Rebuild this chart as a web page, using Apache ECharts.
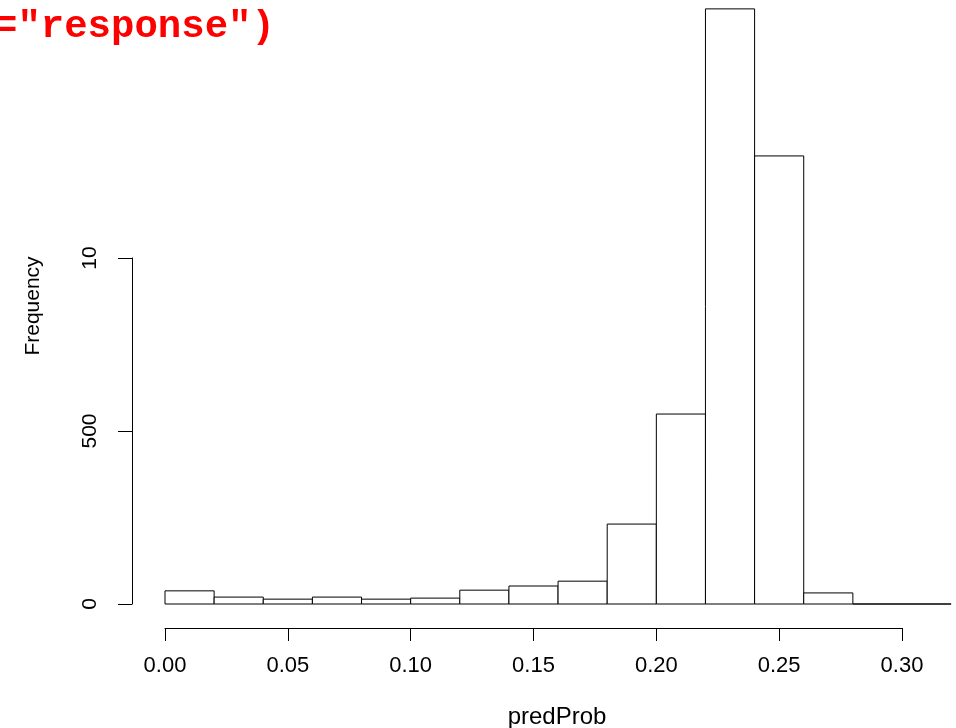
<!DOCTYPE html>
<html><head><meta charset="utf-8">
<script src="https://cdn.jsdelivr.net/npm/echarts@6/dist/echarts.min.js"></script>
<style>html,body{margin:0;padding:0;background:#fff}#c{width:956px;height:728px}</style>
</head><body><div id="c"></div>
<script>
const binStarts = [0.00,0.02,0.04,0.06,0.08,0.10,0.12,0.14,0.16,0.18,0.20,0.22,0.24,0.26,0.28,0.30];
const binWidth = 0.02;
const counts = [38,20,14,20,14,17,40,52,66,231,549,1720,1295,32,0,0];
const xTicks = [0,0.05,0.10,0.15,0.20,0.25,0.30];
const yTicks = [0,500,1000];
const yTickLabels = ['0','500','10'];
const xTitle = 'predProb';
const yTitle = 'Frequency';
const codeText = '="response")';

const data = binStarts.map((s,i)=>[s, s+binWidth, counts[i]]);
const chart = echarts.init(document.getElementById('c'));
const font = 'Liberation Sans, Arial, sans-serif';
chart.setOption({
  animation:false,
  grid:{left:165,right:54,top:258,bottom:124,containLabel:false,outerBoundsMode:'none'},
  xAxis:{type:'value',min:0,max:0.30,interval:0.05,offset:24,
    axisLine:{show:true,onZero:false,lineStyle:{color:'#000',width:1}},
    axisTick:{show:true,length:13,lineStyle:{color:'#000'}},
    axisLabel:{color:'#000',fontFamily:font,fontSize:22,margin:27,formatter:v=>v.toFixed(2)},
    splitLine:{show:false}},
  yAxis:{type:'value',min:0,max:1000,interval:500,offset:33,
    axisLine:{show:true,onZero:false,lineStyle:{color:'#000',width:1}},
    axisTick:{show:true,length:14,lineStyle:{color:'#000'}},
    axisLabel:{color:'#000',fontFamily:font,fontSize:21,rotate:90,margin:31,
      formatter:v=>yTickLabels[yTicks.indexOf(v)]},
    splitLine:{show:false}},
  graphic:[
    {type:'text',left:-6,top:8,style:{text:codeText,fill:'#ff0000',
      font:'bold 39px "Liberation Mono", "Courier New", monospace'}},
    {type:'text',x:557,y:717,style:{text:xTitle,fill:'#000',font:'24px '+font,
      align:'center',verticalAlign:'middle'}},
    {type:'text',x:33,y:306,rotation:Math.PI/2,style:{text:yTitle,fill:'#000',font:'21px '+font,
      align:'center',verticalAlign:'middle'}}
  ],
  series:[{type:'custom',clip:false,data:data,
    renderItem:(params,api)=>{
      const p0=api.coord([api.value(0),0]);
      const p1=api.coord([api.value(1),api.value(2)]);
      return {type:'rect',shape:{x:p0[0],y:p1[1],width:p1[0]-p0[0],height:p0[1]-p1[1]},
        style:{fill:'#fff',stroke:'#000',lineWidth:1}};
    }}]
});
</script></body></html>
